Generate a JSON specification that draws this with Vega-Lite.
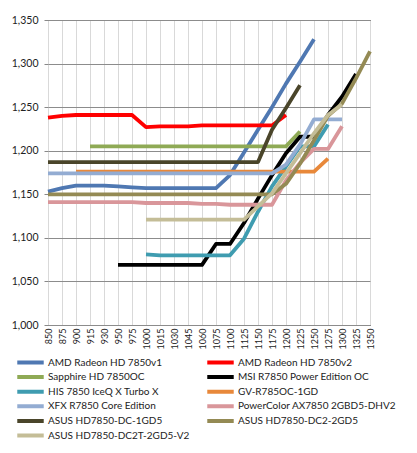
{
  "$schema": "https://vega.github.io/schema/vega-lite/v6.json",
  "autosize": {"type": "none"},
  "width": 322,
  "height": 305,
  "padding": {"left": 48, "top": 20, "right": 47, "bottom": 128},
  "background": "white",
  "config": {
    "view": {"stroke": "black", "strokeWidth": 1},
    "font": "Lato",
    "axis": {"labelFont": "Lato", "labelColor": "#222"}
  },
  "datasets": {
    "d": [
      {"s":"AMD Radeon HD 7850v1","x":850,"v":1153},{"s":"AMD Radeon HD 7850v1","x":875,"v":1157},{"s":"AMD Radeon HD 7850v1","x":900,"v":1160},{"s":"AMD Radeon HD 7850v1","x":915,"v":1160},{"s":"AMD Radeon HD 7850v1","x":930,"v":1160},{"s":"AMD Radeon HD 7850v1","x":950,"v":1159},{"s":"AMD Radeon HD 7850v1","x":975,"v":1158},{"s":"AMD Radeon HD 7850v1","x":1000,"v":1157},{"s":"AMD Radeon HD 7850v1","x":1015,"v":1157},{"s":"AMD Radeon HD 7850v1","x":1030,"v":1157},{"s":"AMD Radeon HD 7850v1","x":1045,"v":1157},{"s":"AMD Radeon HD 7850v1","x":1060,"v":1157},{"s":"AMD Radeon HD 7850v1","x":1075,"v":1157},{"s":"AMD Radeon HD 7850v1","x":1100,"v":1172},{"s":"AMD Radeon HD 7850v1","x":1125,"v":1198},{"s":"AMD Radeon HD 7850v1","x":1150,"v":1224},{"s":"AMD Radeon HD 7850v1","x":1175,"v":1250},{"s":"AMD Radeon HD 7850v1","x":1200,"v":1277},{"s":"AMD Radeon HD 7850v1","x":1225,"v":1302},{"s":"AMD Radeon HD 7850v1","x":1250,"v":1328},
      {"s":"AMD Radeon HD 7850v2","x":850,"v":1238},{"s":"AMD Radeon HD 7850v2","x":875,"v":1240},{"s":"AMD Radeon HD 7850v2","x":900,"v":1241},{"s":"AMD Radeon HD 7850v2","x":915,"v":1241},{"s":"AMD Radeon HD 7850v2","x":930,"v":1241},{"s":"AMD Radeon HD 7850v2","x":950,"v":1241},{"s":"AMD Radeon HD 7850v2","x":975,"v":1241},{"s":"AMD Radeon HD 7850v2","x":1000,"v":1227},{"s":"AMD Radeon HD 7850v2","x":1015,"v":1228},{"s":"AMD Radeon HD 7850v2","x":1030,"v":1228},{"s":"AMD Radeon HD 7850v2","x":1045,"v":1228},{"s":"AMD Radeon HD 7850v2","x":1060,"v":1229},{"s":"AMD Radeon HD 7850v2","x":1075,"v":1229},{"s":"AMD Radeon HD 7850v2","x":1100,"v":1229},{"s":"AMD Radeon HD 7850v2","x":1125,"v":1229},{"s":"AMD Radeon HD 7850v2","x":1150,"v":1229},{"s":"AMD Radeon HD 7850v2","x":1175,"v":1229},{"s":"AMD Radeon HD 7850v2","x":1200,"v":1241},
      {"s":"Sapphire HD 7850OC","x":915,"v":1205},{"s":"Sapphire HD 7850OC","x":930,"v":1205},{"s":"Sapphire HD 7850OC","x":950,"v":1205},{"s":"Sapphire HD 7850OC","x":975,"v":1205},{"s":"Sapphire HD 7850OC","x":1000,"v":1205},{"s":"Sapphire HD 7850OC","x":1015,"v":1205},{"s":"Sapphire HD 7850OC","x":1030,"v":1205},{"s":"Sapphire HD 7850OC","x":1045,"v":1205},{"s":"Sapphire HD 7850OC","x":1060,"v":1205},{"s":"Sapphire HD 7850OC","x":1075,"v":1205},{"s":"Sapphire HD 7850OC","x":1100,"v":1205},{"s":"Sapphire HD 7850OC","x":1125,"v":1205},{"s":"Sapphire HD 7850OC","x":1150,"v":1205},{"s":"Sapphire HD 7850OC","x":1175,"v":1205},{"s":"Sapphire HD 7850OC","x":1200,"v":1205},{"s":"Sapphire HD 7850OC","x":1225,"v":1222},
      {"s":"MSI R7850 Power Edition OC","x":950,"v":1069},{"s":"MSI R7850 Power Edition OC","x":975,"v":1069},{"s":"MSI R7850 Power Edition OC","x":1000,"v":1069},{"s":"MSI R7850 Power Edition OC","x":1015,"v":1069},{"s":"MSI R7850 Power Edition OC","x":1030,"v":1069},{"s":"MSI R7850 Power Edition OC","x":1045,"v":1069},{"s":"MSI R7850 Power Edition OC","x":1060,"v":1069},{"s":"MSI R7850 Power Edition OC","x":1075,"v":1093},{"s":"MSI R7850 Power Edition OC","x":1100,"v":1093},{"s":"MSI R7850 Power Edition OC","x":1125,"v":1117},{"s":"MSI R7850 Power Edition OC","x":1150,"v":1145},{"s":"MSI R7850 Power Edition OC","x":1175,"v":1172},{"s":"MSI R7850 Power Edition OC","x":1200,"v":1197},{"s":"MSI R7850 Power Edition OC","x":1225,"v":1216},{"s":"MSI R7850 Power Edition OC","x":1250,"v":1216},{"s":"MSI R7850 Power Edition OC","x":1275,"v":1241},{"s":"MSI R7850 Power Edition OC","x":1300,"v":1262},{"s":"MSI R7850 Power Edition OC","x":1325,"v":1288},
      {"s":"HIS 7850 IceQ X Turbo X","x":1000,"v":1081},{"s":"HIS 7850 IceQ X Turbo X","x":1015,"v":1080},{"s":"HIS 7850 IceQ X Turbo X","x":1030,"v":1080},{"s":"HIS 7850 IceQ X Turbo X","x":1045,"v":1080},{"s":"HIS 7850 IceQ X Turbo X","x":1060,"v":1080},{"s":"HIS 7850 IceQ X Turbo X","x":1075,"v":1080},{"s":"HIS 7850 IceQ X Turbo X","x":1100,"v":1080},{"s":"HIS 7850 IceQ X Turbo X","x":1125,"v":1099},{"s":"HIS 7850 IceQ X Turbo X","x":1150,"v":1130},{"s":"HIS 7850 IceQ X Turbo X","x":1175,"v":1159},{"s":"HIS 7850 IceQ X Turbo X","x":1200,"v":1182},{"s":"HIS 7850 IceQ X Turbo X","x":1225,"v":1205},{"s":"HIS 7850 IceQ X Turbo X","x":1250,"v":1205},{"s":"HIS 7850 IceQ X Turbo X","x":1275,"v":1230},
      {"s":"GV-R785OC-1GD","x":900,"v":1176},{"s":"GV-R785OC-1GD","x":915,"v":1176},{"s":"GV-R785OC-1GD","x":930,"v":1176},{"s":"GV-R785OC-1GD","x":950,"v":1176},{"s":"GV-R785OC-1GD","x":975,"v":1176},{"s":"GV-R785OC-1GD","x":1000,"v":1176},{"s":"GV-R785OC-1GD","x":1015,"v":1176},{"s":"GV-R785OC-1GD","x":1030,"v":1176},{"s":"GV-R785OC-1GD","x":1045,"v":1176},{"s":"GV-R785OC-1GD","x":1060,"v":1176},{"s":"GV-R785OC-1GD","x":1075,"v":1176},{"s":"GV-R785OC-1GD","x":1100,"v":1176},{"s":"GV-R785OC-1GD","x":1125,"v":1176},{"s":"GV-R785OC-1GD","x":1150,"v":1176},{"s":"GV-R785OC-1GD","x":1175,"v":1176},{"s":"GV-R785OC-1GD","x":1200,"v":1176},{"s":"GV-R785OC-1GD","x":1225,"v":1176},{"s":"GV-R785OC-1GD","x":1250,"v":1176},{"s":"GV-R785OC-1GD","x":1275,"v":1191},
      {"s":"XFX R7850 Core Edition","x":850,"v":1174},{"s":"XFX R7850 Core Edition","x":875,"v":1174},{"s":"XFX R7850 Core Edition","x":900,"v":1174},{"s":"XFX R7850 Core Edition","x":915,"v":1174},{"s":"XFX R7850 Core Edition","x":930,"v":1174},{"s":"XFX R7850 Core Edition","x":950,"v":1174},{"s":"XFX R7850 Core Edition","x":975,"v":1174},{"s":"XFX R7850 Core Edition","x":1000,"v":1174},{"s":"XFX R7850 Core Edition","x":1015,"v":1174},{"s":"XFX R7850 Core Edition","x":1030,"v":1174},{"s":"XFX R7850 Core Edition","x":1045,"v":1174},{"s":"XFX R7850 Core Edition","x":1060,"v":1174},{"s":"XFX R7850 Core Edition","x":1075,"v":1174},{"s":"XFX R7850 Core Edition","x":1100,"v":1174},{"s":"XFX R7850 Core Edition","x":1125,"v":1174},{"s":"XFX R7850 Core Edition","x":1150,"v":1174},{"s":"XFX R7850 Core Edition","x":1175,"v":1174},{"s":"XFX R7850 Core Edition","x":1200,"v":1184},{"s":"XFX R7850 Core Edition","x":1225,"v":1207},{"s":"XFX R7850 Core Edition","x":1250,"v":1236},{"s":"XFX R7850 Core Edition","x":1275,"v":1236},{"s":"XFX R7850 Core Edition","x":1300,"v":1236},
      {"s":"PowerColor AX7850 2GBD5-DHV2","x":850,"v":1141},{"s":"PowerColor AX7850 2GBD5-DHV2","x":875,"v":1141},{"s":"PowerColor AX7850 2GBD5-DHV2","x":900,"v":1141},{"s":"PowerColor AX7850 2GBD5-DHV2","x":915,"v":1141},{"s":"PowerColor AX7850 2GBD5-DHV2","x":930,"v":1141},{"s":"PowerColor AX7850 2GBD5-DHV2","x":950,"v":1141},{"s":"PowerColor AX7850 2GBD5-DHV2","x":975,"v":1141},{"s":"PowerColor AX7850 2GBD5-DHV2","x":1000,"v":1140},{"s":"PowerColor AX7850 2GBD5-DHV2","x":1015,"v":1140},{"s":"PowerColor AX7850 2GBD5-DHV2","x":1030,"v":1140},{"s":"PowerColor AX7850 2GBD5-DHV2","x":1045,"v":1140},{"s":"PowerColor AX7850 2GBD5-DHV2","x":1060,"v":1139},{"s":"PowerColor AX7850 2GBD5-DHV2","x":1075,"v":1139},{"s":"PowerColor AX7850 2GBD5-DHV2","x":1100,"v":1138},{"s":"PowerColor AX7850 2GBD5-DHV2","x":1125,"v":1138},{"s":"PowerColor AX7850 2GBD5-DHV2","x":1150,"v":1138},{"s":"PowerColor AX7850 2GBD5-DHV2","x":1175,"v":1138},{"s":"PowerColor AX7850 2GBD5-DHV2","x":1200,"v":1166},{"s":"PowerColor AX7850 2GBD5-DHV2","x":1225,"v":1186},{"s":"PowerColor AX7850 2GBD5-DHV2","x":1250,"v":1202},{"s":"PowerColor AX7850 2GBD5-DHV2","x":1275,"v":1202},{"s":"PowerColor AX7850 2GBD5-DHV2","x":1300,"v":1228},
      {"s":"ASUS HD7850-DC-1GD5","x":850,"v":1187},{"s":"ASUS HD7850-DC-1GD5","x":875,"v":1187},{"s":"ASUS HD7850-DC-1GD5","x":900,"v":1187},{"s":"ASUS HD7850-DC-1GD5","x":915,"v":1187},{"s":"ASUS HD7850-DC-1GD5","x":930,"v":1187},{"s":"ASUS HD7850-DC-1GD5","x":950,"v":1187},{"s":"ASUS HD7850-DC-1GD5","x":975,"v":1187},{"s":"ASUS HD7850-DC-1GD5","x":1000,"v":1187},{"s":"ASUS HD7850-DC-1GD5","x":1015,"v":1187},{"s":"ASUS HD7850-DC-1GD5","x":1030,"v":1187},{"s":"ASUS HD7850-DC-1GD5","x":1045,"v":1187},{"s":"ASUS HD7850-DC-1GD5","x":1060,"v":1187},{"s":"ASUS HD7850-DC-1GD5","x":1075,"v":1187},{"s":"ASUS HD7850-DC-1GD5","x":1100,"v":1187},{"s":"ASUS HD7850-DC-1GD5","x":1125,"v":1187},{"s":"ASUS HD7850-DC-1GD5","x":1150,"v":1187},{"s":"ASUS HD7850-DC-1GD5","x":1175,"v":1224},{"s":"ASUS HD7850-DC-1GD5","x":1200,"v":1249},{"s":"ASUS HD7850-DC-1GD5","x":1225,"v":1275},
      {"s":"ASUS HD7850-DC2-2GD5","x":850,"v":1150},{"s":"ASUS HD7850-DC2-2GD5","x":875,"v":1150},{"s":"ASUS HD7850-DC2-2GD5","x":900,"v":1150},{"s":"ASUS HD7850-DC2-2GD5","x":915,"v":1150},{"s":"ASUS HD7850-DC2-2GD5","x":930,"v":1150},{"s":"ASUS HD7850-DC2-2GD5","x":950,"v":1150},{"s":"ASUS HD7850-DC2-2GD5","x":975,"v":1150},{"s":"ASUS HD7850-DC2-2GD5","x":1000,"v":1150},{"s":"ASUS HD7850-DC2-2GD5","x":1015,"v":1150},{"s":"ASUS HD7850-DC2-2GD5","x":1030,"v":1150},{"s":"ASUS HD7850-DC2-2GD5","x":1045,"v":1150},{"s":"ASUS HD7850-DC2-2GD5","x":1060,"v":1150},{"s":"ASUS HD7850-DC2-2GD5","x":1075,"v":1150},{"s":"ASUS HD7850-DC2-2GD5","x":1100,"v":1150},{"s":"ASUS HD7850-DC2-2GD5","x":1125,"v":1150},{"s":"ASUS HD7850-DC2-2GD5","x":1150,"v":1150},{"s":"ASUS HD7850-DC2-2GD5","x":1175,"v":1150},{"s":"ASUS HD7850-DC2-2GD5","x":1200,"v":1162},{"s":"ASUS HD7850-DC2-2GD5","x":1225,"v":1185},{"s":"ASUS HD7850-DC2-2GD5","x":1250,"v":1212},{"s":"ASUS HD7850-DC2-2GD5","x":1275,"v":1240},{"s":"ASUS HD7850-DC2-2GD5","x":1300,"v":1254},{"s":"ASUS HD7850-DC2-2GD5","x":1325,"v":1283},{"s":"ASUS HD7850-DC2-2GD5","x":1350,"v":1314},
      {"s":"ASUS HD7850-DC2T-2GD5-V2","x":1000,"v":1121},{"s":"ASUS HD7850-DC2T-2GD5-V2","x":1015,"v":1121},{"s":"ASUS HD7850-DC2T-2GD5-V2","x":1030,"v":1121},{"s":"ASUS HD7850-DC2T-2GD5-V2","x":1045,"v":1121},{"s":"ASUS HD7850-DC2T-2GD5-V2","x":1060,"v":1121},{"s":"ASUS HD7850-DC2T-2GD5-V2","x":1075,"v":1121},{"s":"ASUS HD7850-DC2T-2GD5-V2","x":1100,"v":1121},{"s":"ASUS HD7850-DC2T-2GD5-V2","x":1125,"v":1121},{"s":"ASUS HD7850-DC2T-2GD5-V2","x":1150,"v":1136},{"s":"ASUS HD7850-DC2T-2GD5-V2","x":1175,"v":1151},{"s":"ASUS HD7850-DC2T-2GD5-V2","x":1200,"v":1174},{"s":"ASUS HD7850-DC2T-2GD5-V2","x":1225,"v":1197},{"s":"ASUS HD7850-DC2T-2GD5-V2","x":1250,"v":1220},{"s":"ASUS HD7850-DC2T-2GD5-V2","x":1275,"v":1241},{"s":"ASUS HD7850-DC2T-2GD5-V2","x":1300,"v":1253}
    ]
  },
  "data": {"name": "d"},
  "mark": {"type": "line", "strokeWidth": 3.8, "strokeJoin": "round", "strokeCap": "butt"},
  "encoding": {
    "x": {
      "field": "x", "type": "ordinal",
      "scale": {"type": "point", "padding": 0, "domain": [850,875,900,915,930,950,975,1000,1015,1030,1045,1060,1075,1100,1125,1150,1175,1200,1225,1250,1275,1300,1325,1350]},
      "axis": {"title": null, "labelAngle": 270, "labelAlign": "right", "labelBaseline": "middle", "labelFontSize": 9, "labelPadding": 3, "ticks": false, "domain": false, "grid": true, "gridColor": "#D9D9D9", "gridWidth": 1}
    },
    "y": {
      "field": "v", "type": "quantitative",
      "scale": {"domain": [1000, 1350], "nice": false, "zero": false},
      "axis": {"title": null, "values": [1000,1050,1100,1150,1200,1250,1300,1350], "format": ",d", "labelFontSize": 10.5, "labelPadding": 6, "ticks": true, "tickSize": 4, "tickColor": "#888", "domain": false, "grid": true, "gridColor": "#8C8C8C", "gridWidth": 1}
    },
    "color": {
      "field": "s", "type": "nominal",
      "scale": {
        "domain": ["AMD Radeon HD 7850v1","AMD Radeon HD 7850v2","Sapphire HD 7850OC","MSI R7850 Power Edition OC","HIS 7850 IceQ X Turbo X","GV-R785OC-1GD","XFX R7850 Core Edition","PowerColor AX7850 2GBD5-DHV2","ASUS HD7850-DC-1GD5","ASUS HD7850-DC2-2GD5","ASUS HD7850-DC2T-2GD5-V2"],
        "range": ["#4F78B2","#FF0000","#8FAA55","#000000","#3F9CB0","#E8883A","#93ACD2","#D9969A","#4A452A","#948A54","#C4BD97"]
      },
      "legend": {"title": null, "orient": "none", "direction": "horizontal", "legendX": -33, "legendY": 336, "columns": 2, "columnPadding": 15, "symbolType": "stroke", "symbolSize": 700, "symbolStrokeWidth": 4, "clipHeight": 13, "rowPadding": 1.6, "labelFontSize": 10, "labelFont": "Lato", "labelColor": "#222", "labelOffset": 2, "labelLimit": 250}
    }
  }
}
